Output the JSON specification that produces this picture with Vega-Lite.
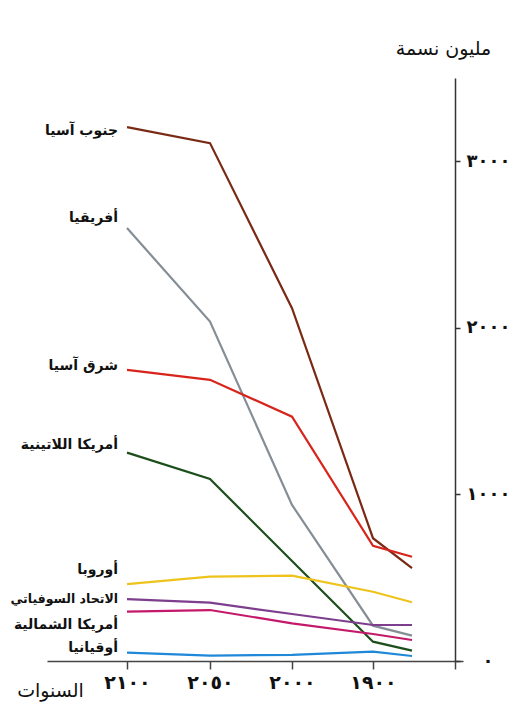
{
  "$schema": "https://vega.github.io/schema/vega-lite/v6.json",
  "width": 408,
  "height": 583,
  "autosize": "none",
  "padding": {"left": 47, "top": 78, "right": 63, "bottom": 48},
  "background": "white",
  "config": {
    "view": {"stroke": null},
    "font": "DejaVu Sans"
  },
  "data": {
    "values": [
      {"region": "جنوب آسيا", "year": 2100, "value": 3205},
      {"region": "جنوب آسيا", "year": 2050, "value": 3109},
      {"region": "جنوب آسيا", "year": 2000, "value": 2118},
      {"region": "جنوب آسيا", "year": 1900, "value": 737},
      {"region": "جنوب آسيا", "year": 1850, "value": 557},
      {"region": "أفريقيا", "year": 2100, "value": 2599},
      {"region": "أفريقيا", "year": 2050, "value": 2038},
      {"region": "أفريقيا", "year": 2000, "value": 937},
      {"region": "أفريقيا", "year": 1900, "value": 212},
      {"region": "أفريقيا", "year": 1850, "value": 152},
      {"region": "شرق آسيا", "year": 2100, "value": 1748},
      {"region": "شرق آسيا", "year": 2050, "value": 1688},
      {"region": "شرق آسيا", "year": 2000, "value": 1467},
      {"region": "شرق آسيا", "year": 1900, "value": 692},
      {"region": "شرق آسيا", "year": 1850, "value": 626},
      {"region": "أمريكا اللاتينية", "year": 2100, "value": 1251},
      {"region": "أمريكا اللاتينية", "year": 2050, "value": 1093},
      {"region": "أمريكا اللاتينية", "year": 2000, "value": 600},
      {"region": "أمريكا اللاتينية", "year": 1900, "value": 116},
      {"region": "أمريكا اللاتينية", "year": 1850, "value": 62},
      {"region": "أوروبا", "year": 2100, "value": 461},
      {"region": "أوروبا", "year": 2050, "value": 506},
      {"region": "أوروبا", "year": 2000, "value": 512},
      {"region": "أوروبا", "year": 1900, "value": 416},
      {"region": "أوروبا", "year": 1850, "value": 353},
      {"region": "الاتحاد السوفياتي", "year": 2100, "value": 372},
      {"region": "الاتحاد السوفياتي", "year": 2050, "value": 350},
      {"region": "الاتحاد السوفياتي", "year": 2000, "value": 282},
      {"region": "الاتحاد السوفياتي", "year": 1900, "value": 216},
      {"region": "الاتحاد السوفياتي", "year": 1850, "value": 216},
      {"region": "أمريكا الشمالية", "year": 2100, "value": 296},
      {"region": "أمريكا الشمالية", "year": 2050, "value": 306},
      {"region": "أمريكا الشمالية", "year": 2000, "value": 226},
      {"region": "أمريكا الشمالية", "year": 1900, "value": 162},
      {"region": "أمريكا الشمالية", "year": 1850, "value": 126},
      {"region": "أوقيانيا", "year": 2100, "value": 50},
      {"region": "أوقيانيا", "year": 2050, "value": 32},
      {"region": "أوقيانيا", "year": 2000, "value": 37},
      {"region": "أوقيانيا", "year": 1900, "value": 56},
      {"region": "أوقيانيا", "year": 1850, "value": 30}
    ]
  },
  "encoding": {
    "x": {
      "field": "year",
      "type": "quantitative",
      "scale": {
        "type": "linear",
        "domain": [2150, 2100, 2050, 2000, 1900, 1850, 1780],
        "range": [0, 80, 163, 245, 326, 365, 416],
        "nice": false,
        "zero": false
      },
      "axis": {
        "values": [2100, 2050, 2000, 1900, 1791],
        "labelExpr": "datum.value == 2100 ? '٢١٠٠' : datum.value == 2050 ? '٢٠٥٠' : datum.value == 2000 ? '٢٠٠٠' : datum.value == 1900 ? '١٩٠٠' : ''",
        "grid": false,
        "domainColor": "#444",
        "domainWidth": 1.5,
        "tickColor": "#444",
        "tickWidth": 1.5,
        "tickSize": 8,
        "labelFontSize": 19,
        "labelFontWeight": "bold",
        "labelColor": "#111",
        "labelPadding": 4,
        "labelFlush": false,
        "labelOverlap": false,
        "title": "السنوات",
        "titleFontSize": 19,
        "titleFontWeight": "normal",
        "titleColor": "#111",
        "titleAngle": 0,
        "titleAlign": "center",
        "titleBaseline": "middle",
        "titleX": 3,
        "titleY": 29
      }
    },
    "y": {
      "field": "value",
      "type": "quantitative",
      "scale": {"domain": [0, 3500], "nice": false, "zero": true},
      "axis": {
        "orient": "right",
        "values": [0, 1000, 2000, 3000],
        "labelExpr": "datum.value == 0 ? '٠' : datum.value == 1000 ? '١٠٠٠' : datum.value == 2000 ? '٢٠٠٠' : '٣٠٠٠'",
        "grid": false,
        "domainColor": "#333",
        "domainWidth": 1.5,
        "tickColor": "#333",
        "tickWidth": 1.5,
        "tickSize": 5,
        "labelFontSize": 18,
        "labelFontWeight": "bold",
        "labelColor": "#111",
        "labelAlign": "left",
        "labelPadding": {"condition": {"test": "datum.value == 0", "value": 22}, "value": 6},
        "title": "مليون نسمة",
        "titleFontSize": 19,
        "titleFontWeight": "normal",
        "titleColor": "#111",
        "titleAngle": 0,
        "titleAlign": "center",
        "titleBaseline": "middle",
        "titleX": -12,
        "titleY": -30
      }
    },
    "color": {
      "field": "region",
      "type": "nominal",
      "legend": null,
      "scale": {
        "domain": ["جنوب آسيا", "أفريقيا", "شرق آسيا", "أمريكا اللاتينية", "أوروبا", "الاتحاد السوفياتي", "أمريكا الشمالية", "أوقيانيا"],
        "range": ["#7a2a14", "#858e96", "#d8251c", "#1d4f1d", "#eec31c", "#7d3e8e", "#c4186a", "#1f88d8"]
      }
    }
  },
  "layer": [
    {
      "mark": {"type": "line", "strokeWidth": 2.2, "clip": false},
      "encoding": {"detail": {"field": "region"}}
    },
    {
      "transform": [{"filter": "datum.year == 2100"}],
      "mark": {
        "type": "text",
        "align": "right",
        "baseline": "middle",
        "dx": -9,
        "fontSize": {"expr": "datum.region == 'الاتحاد السوفياتي' ? 12.5 : 14"},
        "fontWeight": "bold",
        "color": "#111",
        "dy": {"expr": "datum.region == 'جنوب آسيا' ? 4 : datum.region == 'أفريقيا' ? -10 : datum.region == 'شرق آسيا' ? -4 : datum.region == 'أمريكا اللاتينية' ? -8 : datum.region == 'أوروبا' ? -14 : datum.region == 'الاتحاد السوفياتي' ? 0 : datum.region == 'أمريكا الشمالية' ? 13 : -5"}
      },
      "encoding": {
        "text": {"field": "region"},
        "color": {"value": "#111"}
      }
    }
  ]
}
